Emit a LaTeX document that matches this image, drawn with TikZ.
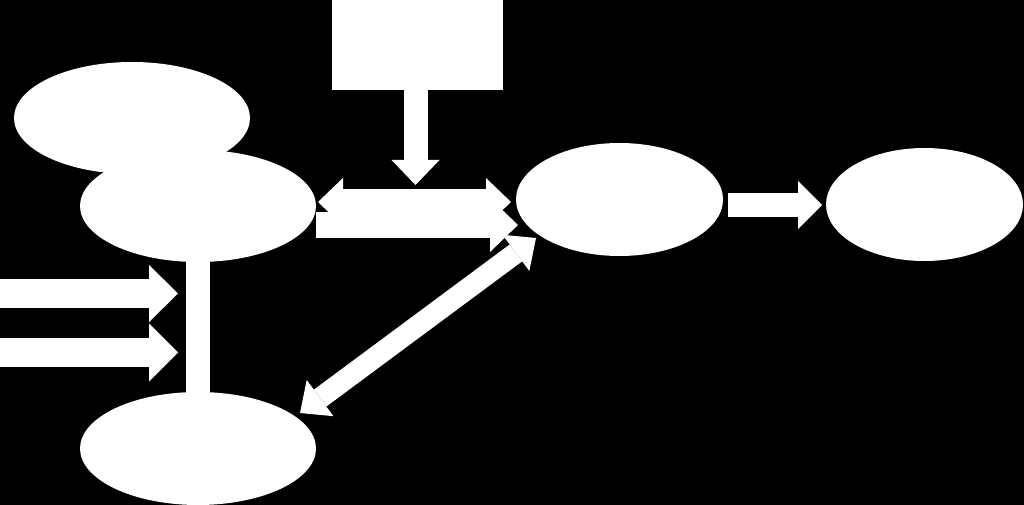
\documentclass[tikz,border=0pt]{standalone}
\usetikzlibrary{shapes.geometric,arrows.meta,calc}
\begin{document}
\begin{tikzpicture}[x=1pt,y=-1pt,
  blob/.style={ellipse, fill=white, draw=none, inner sep=0pt, outer sep=0pt},
  fat/.style={draw=white, line width=#1, line cap=butt},
  hd/.style 2 args={},
]
\fill[black] (0,0) rectangle (1024,505);
\useasboundingbox (0,0) rectangle (1024,505);

% nodes
\node[blob, minimum width=236pt, minimum height=112pt] (src) at (132,118) {};
\node[blob, minimum width=236pt, minimum height=112pt] (hub) at (198,206) {};
\node[blob, minimum width=207pt, minimum height=113pt] (mid) at (619.5,199.5) {};
\node[blob, minimum width=197pt, minimum height=113pt] (out) at (924.5,204.5) {};
\node[blob, minimum width=236pt, minimum height=113pt] (low) at (198,448.5) {};
\node[fill=white, draw=none, minimum width=171pt, minimum height=90pt, inner sep=0pt, outer sep=0pt] (box) at (417.5,45) {};

% free ends
\coordinate (boxtip) at (415.5,185);
\coordinate (in1) at (0,293.5);
\coordinate (in1t) at (178,293.5);
\coordinate (in2) at (0,352.5);
\coordinate (in2t) at (178,352.5);

% bar between hub and low
\draw[fat=24pt] ($(hub.south)+(0,-2)$) -- ($(low.north)+(0,2)$);

% box -> double arrow
\draw[fat=24pt, -{Triangle[length=25pt,width=48pt,line width=0pt]}]
  ($(box.south)+(-2,-1)$) -- (boxtip);

% hub <-> mid (upper)
\draw[fat=26pt, {Triangle[length=25pt,width=48pt,line width=0pt]}-{Triangle[length=25pt,width=48pt,line width=0pt]}]
  ($(hub.east)+(2,-4)$) -- ($(mid.west)+(-5,2.5)$);

% hub -> mid (lower)
\draw[fat=26pt, -{Triangle[length=28pt,width=54pt,line width=0pt]}]
  ($(hub.east)+(0,19)$) -- ($(mid.west)+(2,25.5)$);

% mid -> out
\draw[fat=24pt, -{Triangle[length=24pt,width=48pt,line width=0pt]}]
  ($(mid.east)+(5,5.5)$) -- ($(out.west)+(-4,0.5)$);

% inputs from the left
\draw[fat=29pt, -{Triangle[length=29pt,width=57pt,line width=0pt]}] (in1) -- (in1t);
\draw[fat=29pt, -{Triangle[length=29pt,width=58pt,line width=0pt]}] (in2) -- (in2t);

% low <-> mid (diagonal)
\draw[fat=21pt, {Triangle[length=25pt,width=45pt,line width=0pt]}-{Triangle[length=25pt,width=45pt,line width=0pt]}]
  ($(low.center)+(102,-35.5)$) -- ($(mid.center)+(-83.5,38.5)$);
\end{tikzpicture}
\end{document}
